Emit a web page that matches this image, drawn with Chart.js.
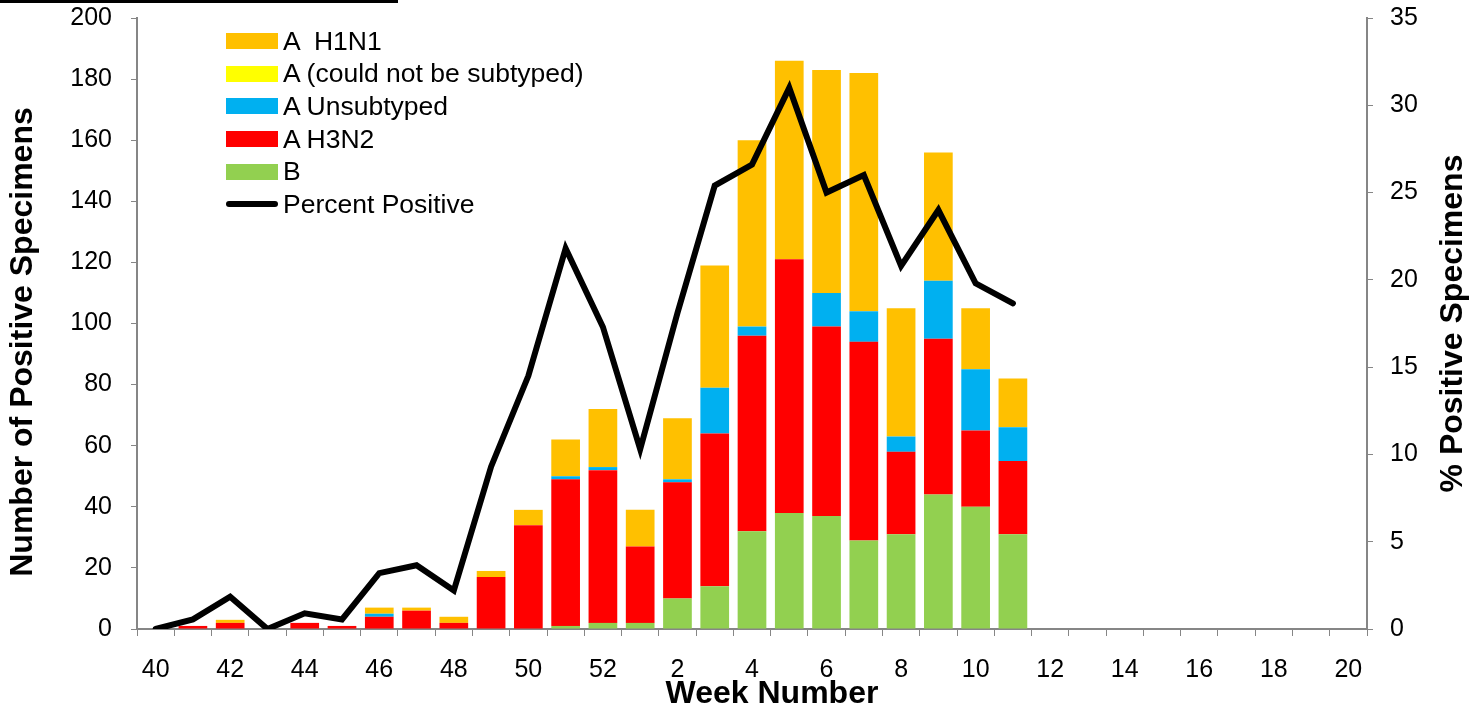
<!DOCTYPE html>
<html>
<head>
<meta charset="utf-8">
<script src="https://cdn.jsdelivr.net/npm/chart.js@4/dist/chart.umd.min.js"></script>
<style>
  body { margin: 0; background: #fff; }
  #wrap { position: relative; width: 1472px; height: 713px; font-family: "Liberation Sans", Arial, sans-serif; }
  #topRule { position: absolute; left: 0; top: 0; width: 398px; height: 3px; background: #000; }
  #legend { position: absolute; left: 226px; top: 25px; }
  .legend-item { display: flex; align-items: center; height: 32.6px; font-size: 26.5px; color: #000; white-space: nowrap; }
  .legend-swatch { width: 52px; height: 16px; margin-right: 5px; }
  .legend-line { width: 52px; height: 6px; border-radius: 3px; margin-right: 5px; background: #000; }
</style>
</head>
<body>
<div id="wrap">
  <canvas id="fluChart" width="1472" height="713"></canvas>
  <div id="topRule"></div>
  <div id="legend"></div>
</div>
<script>
// weeks 40-52 of one season, then 1-20 of the next
const weekLabels = ['40','41','42','43','44','45','46','47','48','49','50','51','52',
    '1','2','3','4','5','6','7','8','9','10','11','12','13','14','15','16','17','18','19','20'];

const fluB =        [0,0,0,0,0,0,0,0,0,0,0,1,2, 2,10,14,32,38,37,29,31,44,40,31, 0,0,0,0,0,0,0,0,0];
const aH3N2 =       [0,1,2,0,2,1,4,6,2,17,34,48,50, 25,38,50,64,83,62,65,27,51,25,24, 0,0,0,0,0,0,0,0,0];
const aUnsubtyped = [0,0,0,0,0,0,1,0,0,0,0,1,1, 0,1,15,3,0,11,10,5,19,20,11, 0,0,0,0,0,0,0,0,0];
const aNotSubtyped =[0,0,0,0,0,0,0,0,0,0,0,0,0, 0,0,0,0,0,0,0,0,0,0,0, 0,0,0,0,0,0,0,0,0];
const aH1N1 =       [0,0,1,0,0,0,2,1,2,2,5,12,19, 12,20,40,61,65,73,78,42,42,20,16, 0,0,0,0,0,0,0,0,0];
const percentPositive = [0,0.55,1.85,0,0.9,0.55,3.2,3.65,2.2,9.3,14.5,21.8,17.3,
    10.3,18.1,25.4,26.6,31.0,25.0,26.0,20.8,24.0,19.8,18.65,
    null,null,null,null,null,null,null,null,null];

const countTicks = [0,20,40,60,80,100,120,140,160,180,200];
const percentTicks = [0,5,10,15,20,25,30,35];

const axisGray = '#868686';
const fontFamily = '"Liberation Sans", Arial, sans-serif';
const titleFont = { family: fontFamily, size: 32, weight: 'bold', lineHeight: 1.2 };
const leftTitle = 'Number of Positive Specimens';
const rightTitle = '% Positive Specimens';
const bottomTitle = 'Week Number';

function barSet(label, data, color) {
    return {
        type: 'bar', label: label, data: data, backgroundColor: color,
        yAxisID: 'y', order: 1, barPercentage: 0.77, categoryPercentage: 1.0
    };
}

// stacking goes bottom-up: B, H3N2, unsubtyped, not subtyped, H1N1
const datasets = [
    {
        type: 'line', label: 'Percent Positive', data: percentPositive, yAxisID: 'y2',
        borderColor: '#000', borderWidth: 6, pointRadius: 0, tension: 0,
        borderJoinStyle: 'miter', borderCapStyle: 'round', order: 0, spanGaps: false
    },
    barSet('B', fluB, '#92D050'),
    barSet('A H3N2', aH3N2, '#FF0000'),
    barSet('A Unsubtyped', aUnsubtyped, '#00B0F0'),
    barSet('A (could not be subtyped)', aNotSubtyped, '#FFFF00'),
    barSet('A  H1N1', aH1N1, '#FFC000')
];

// axis titles sit slightly off-centre in the reference, so draw them here
function drawTitle(ctx, text, x, y, angle) {
    ctx.save();
    ctx.translate(x, y);
    ctx.rotate(angle);
    ctx.font = 'bold ' + titleFont.size + 'px ' + fontFamily;
    ctx.fillStyle = '#000';
    ctx.textAlign = 'center';
    ctx.textBaseline = 'middle';
    ctx.fillText(text, 0, 0);
    ctx.restore();
}

const axisTitlesPlugin = {
    id: 'axisTitles',
    afterDraw(chart) {
        const area = chart.chartArea;
        drawTitle(chart.ctx, leftTitle, 23, 342, -Math.PI / 2);
        drawTitle(chart.ctx, rightTitle, 1453, (area.top + area.bottom) / 2, -Math.PI / 2);
        drawTitle(chart.ctx, bottomTitle, 772, 694, 0);
    }
};

function fixValueAxis(width) {
    return scale => {
        scale.width = width;
        scale.paddingTop = 0;
        scale.paddingBottom = 0;
    };
}

new Chart(document.getElementById('fluChart'), {
    data: { labels: weekLabels, datasets: datasets },
    plugins: [axisTitlesPlugin],
    options: {
        responsive: false,
        animation: false,
        devicePixelRatio: 1,
        layout: { padding: { top: 18, left: 0, right: 0, bottom: 0 } },
        plugins: { legend: { display: false }, tooltip: { enabled: false } },
        scales: {
            x: {
                stacked: true,
                offset: true,
                afterFit: scale => { scale.height = 84; },
                grid: { offset: true, drawOnChartArea: false, drawTicks: true, tickLength: 7, color: axisGray, lineWidth: 1 },
                border: { display: true, color: axisGray, width: 2 },
                ticks: {
                    autoSkip: false, maxRotation: 0, padding: 19, color: '#000',
                    font: { family: fontFamily, size: 25 },
                    callback: function (value, index) {
                        return index % 2 === 0 ? this.getLabelForValue(value) : '';
                    }
                },
                title: { display: false }
            },
            y: {
                position: 'left', stacked: true, min: 0, max: 200,
                afterFit: fixValueAxis(137),
                afterBuildTicks: scale => { scale.ticks = countTicks.map(v => ({ value: v })); },
                grid: { drawOnChartArea: false, drawTicks: true, tickLength: 6, color: axisGray },
                border: { display: true, color: axisGray, width: 2 },
                ticks: { padding: 19, color: '#000', font: { family: fontFamily, size: 25 } },
                title: { display: false }
            },
            y2: {
                position: 'right', stacked: false, min: 0, max: 35,
                afterFit: fixValueAxis(105),
                afterBuildTicks: scale => { scale.ticks = percentTicks.map(v => ({ value: v })); },
                grid: { drawOnChartArea: false, drawTicks: true, tickLength: 6, color: axisGray },
                border: { display: true, color: axisGray, width: 2 },
                ticks: { padding: 17, color: '#000', font: { family: fontFamily, size: 25 } },
                title: { display: false }
            }
        }
    }
});

// legend in the reference's order
const legendOrder = ['A  H1N1', 'A (could not be subtyped)', 'A Unsubtyped', 'A H3N2', 'B', 'Percent Positive'];
const legendBox = document.getElementById('legend');
legendOrder.forEach(name => {
    const ds = datasets.find(d => d.label === name);
    const row = document.createElement('div');
    row.className = 'legend-item';
    const mark = document.createElement('span');
    if (ds.type === 'line') {
        mark.className = 'legend-line';
    } else {
        mark.className = 'legend-swatch';
        mark.style.background = ds.backgroundColor;
    }
    const text = document.createElement('span');
    text.textContent = name;
    text.style.whiteSpace = 'pre';
    row.appendChild(mark);
    row.appendChild(text);
    legendBox.appendChild(row);
});
</script>
</body>
</html>
